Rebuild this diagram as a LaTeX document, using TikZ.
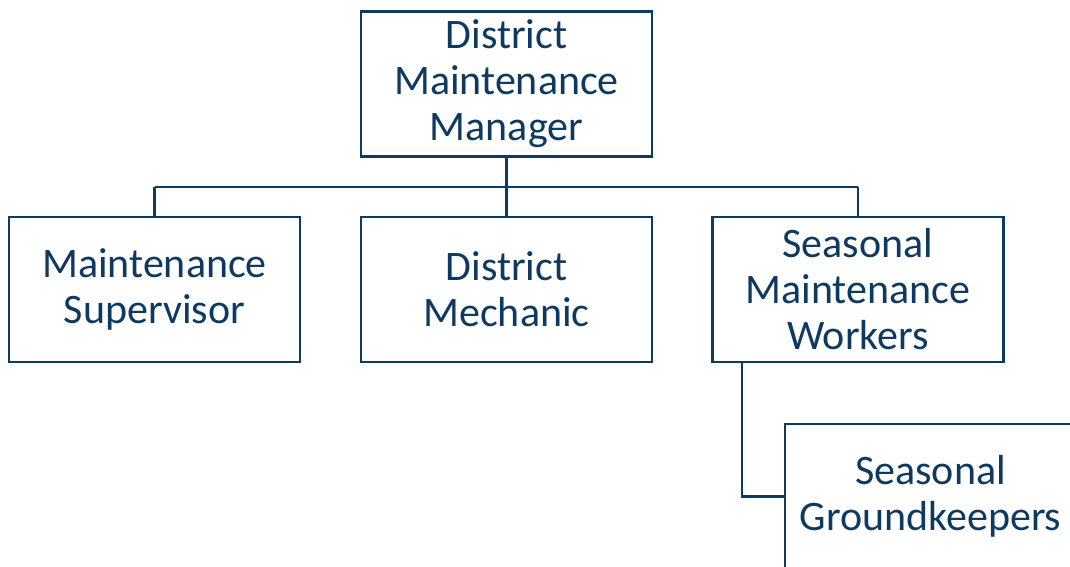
\documentclass[tikz,border=0pt]{standalone}
\usepackage{fontspec}
\setmainfont{Carlito}
\definecolor{navy}{RGB}{14,57,96}
\begin{document}
\begin{tikzpicture}[x=1pt,y=-1pt,
  role/.style={draw=navy, line width=2.6pt, fill=white, text=navy,
    minimum width=291pt, minimum height=145pt, inner sep=0pt,
    align=center, font=\fontsize{42}{46}\selectfont},
  link/.style={draw=navy, line width=2.6pt}]
\useasboundingbox (0,0) rectangle (1070,567);
\clip (0,0) rectangle (1070,567);
% org chart boxes
\node[role] (dmm) at (506.5,84) {District\\Maintenance\\Manager};
\node[role] (sup) at (154.5,289.5) {Maintenance\\Supervisor};
\node[role] (mech) at (506.5,289.5) {District\\Mechanic};
\node[role] (smw) at (858,289.5) {Seasonal\\Maintenance\\Workers};
\node[role] (grd) at (930.5,496.5) {Seasonal\\Groundkeepers};
% branching connectors
\coordinate (bus) at (0,187);
\draw[link] (dmm.south) -- (dmm.south |- bus);
\draw[link] (sup.north |- bus) -- (smw.north |- bus);
\draw[link] (sup.north |- bus) -- (sup.north);
\draw[link] (mech.north |- bus) -- (mech.north);
\draw[link] (smw.north |- bus) -- (smw.north);
\coordinate (drop) at (742,0);
\draw[link] (drop |- smw.south) -- (drop |- grd.west) -- (grd.west);
\end{tikzpicture}
\end{document}
